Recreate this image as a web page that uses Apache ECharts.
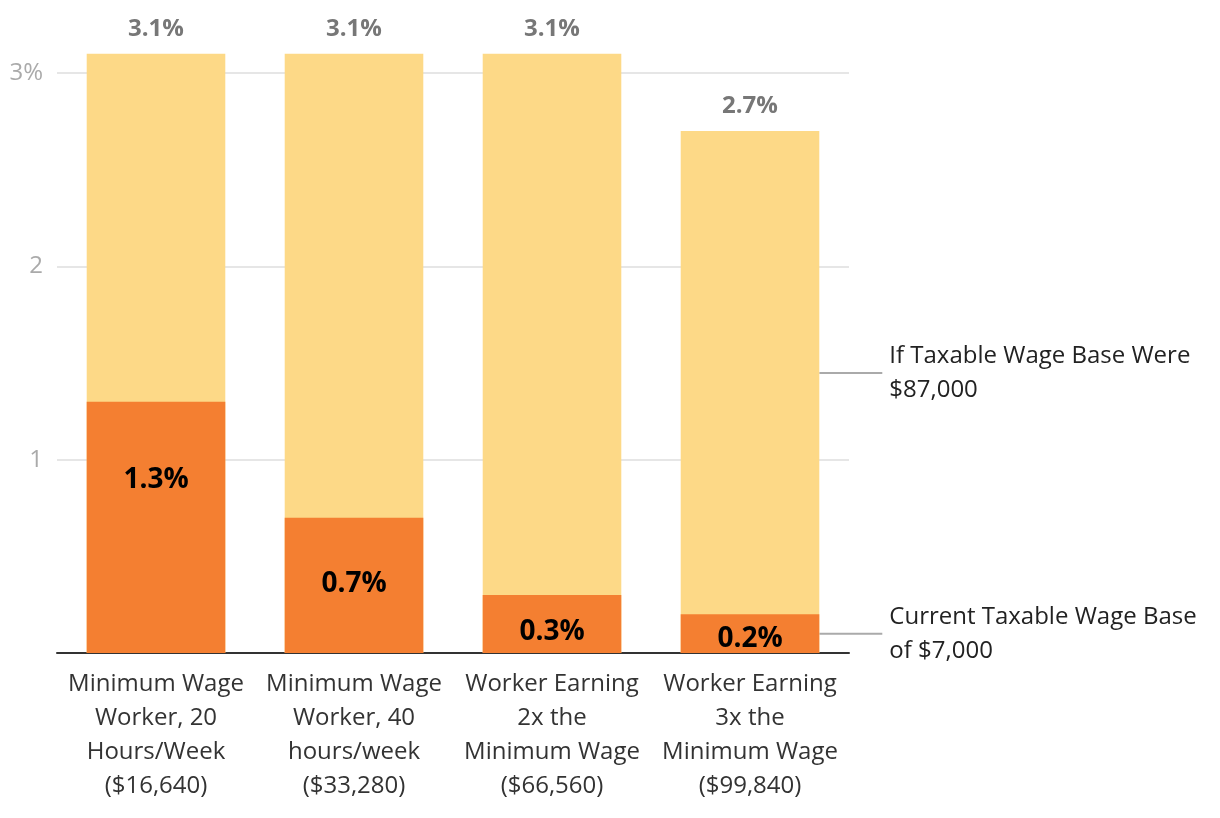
<!DOCTYPE html>
<html>
<head>
<meta charset="utf-8">
<script src="https://cdn.jsdelivr.net/npm/echarts@6/dist/echarts.min.js"></script>
<style>
  html, body { margin: 0; padding: 0; background: #fff; }
  #chart { width: 1220px; height: 818px; }
</style>
</head>
<body>
<div id="chart"></div>
<script>
  // data
  var categories = [
    'Minimum Wage\nWorker, 20\nHours/Week\n($16,640)',
    'Minimum Wage\nWorker, 40\nhours/week\n($33,280)',
    'Worker Earning\n2x the\nMinimum Wage\n($66,560)',
    'Worker Earning\n3x the\nMinimum Wage\n($99,840)'
  ];
  var proposedRate = [3.1, 3.1, 3.1, 2.7];
  var currentRate = [1.3, 0.7, 0.3, 0.2];
  var proposedName = 'If Taxable Wage Base Were\n$87,000';
  var currentName = 'Current Taxable Wage Base\nof $7,000';

  // where the orange labels sit, px below bar top
  var currentLabelY = [78, 66, 37, 25];

  var font = '"Open Sans", sans-serif';
  var last = categories.length - 1;

  function pct(v) { return v.toFixed(1) + '%'; }

  // transparent helper bars carrying the side legend labels
  function sideLabelData(values, name, offsetY) {
    return values.map(function (v, i) {
      if (i !== last) return { value: v, label: { show: false }, labelLine: { show: false } };
      return {
        value: v,
        label: {
          show: true,
          position: 'right',
          distance: 63,
          offset: [0, offsetY],
          padding: [0, 0, 0, 7],
          formatter: name,
          fontFamily: font,
          fontSize: 24,
          lineHeight: 34,
          color: '#222',
          align: 'left',
          verticalAlign: 'middle'
        },
        labelLine: { show: true, lineStyle: { color: '#aaa', width: 2 } }
      };
    });
  }

  var chart = echarts.init(document.getElementById('chart'));
  chart.setOption({
    animation: false,
    grid: { left: 57, right: 371, top: 73, bottom: 165, containLabel: false },
    xAxis: {
      type: 'category',
      data: categories,
      axisTick: { show: false },
      axisLine: { lineStyle: { color: '#333', width: 2 } },
      axisLabel: {
        interval: 0,
        margin: 14,
        fontFamily: font,
        fontSize: 24,
        lineHeight: 34,
        color: '#333'
      }
    },
    yAxis: {
      type: 'value',
      min: 0,
      max: 3,
      interval: 1,
      axisLine: { show: false },
      axisTick: { show: false },
      splitLine: { lineStyle: { color: '#e6e6e6', width: 2 } },
      axisLabel: {
        margin: 14,
        fontFamily: font,
        fontSize: 24,
        color: '#aaa',
        formatter: function (v) { return v === 0 ? '' : (v === 3 ? '3%' : v); }
      }
    },
    series: [
      {
        name: proposedName,
        type: 'bar',
        barWidth: '70%',
        barGap: '-100%',
        clip: false,
        data: proposedRate,
        itemStyle: { color: '#FDD987' },
        label: {
          show: true,
          position: 'top',
          distance: 13,
          fontFamily: font,
          fontSize: 24,
          fontWeight: 'bold',
          color: '#777',
          formatter: function (p) { return pct(p.value); }
        },
        z: 2
      },
      {
        name: currentName,
        type: 'bar',
        barWidth: '70%',
        barGap: '-100%',
        clip: false,
        data: currentRate.map(function (v, i) {
          return { value: v, label: { position: ['50%', currentLabelY[i]] } };
        }),
        itemStyle: { color: '#F47F31' },
        label: {
          show: true,
          align: 'center',
          verticalAlign: 'middle',
          fontFamily: font,
          fontSize: 28,
          fontWeight: 'bold',
          color: '#000',
          formatter: function (p) { return pct(p.value); }
        },
        z: 3
      },
      {
        type: 'bar',
        barWidth: '70%',
        barGap: '-100%',
        clip: false,
        silent: true,
        itemStyle: { color: 'rgba(0,0,0,0)' },
        data: sideLabelData(proposedRate, proposedName, -19),
        z: 1
      },
      {
        type: 'bar',
        barWidth: '70%',
        barGap: '-100%',
        clip: false,
        silent: true,
        itemStyle: { color: 'rgba(0,0,0,0)' },
        data: sideLabelData(currentRate, currentName, 0),
        z: 1
      }
    ]
  });
</script>
</body>
</html>
